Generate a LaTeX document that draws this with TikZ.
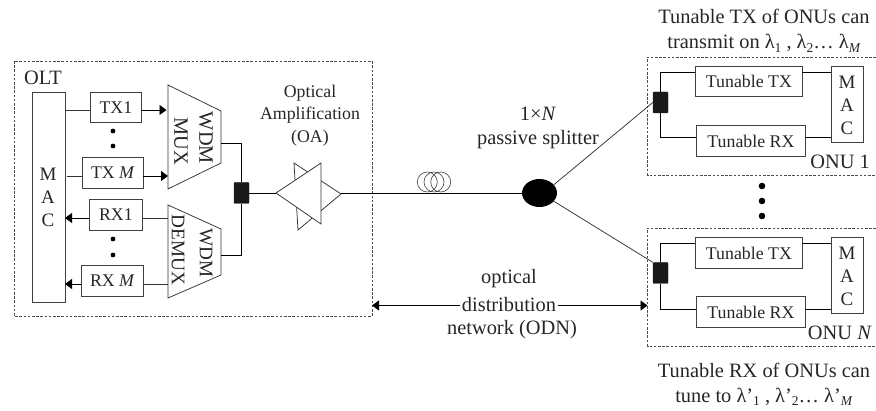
\documentclass[tikz,border=0pt]{standalone}
\usepackage{fontspec}
\setmainfont{Liberation Serif}
\usetikzlibrary{arrows.meta,shapes.geometric}
\newcommand{\lowsub}[1]{\raisebox{-3.5pt}{\fontsize{13.5}{14}\selectfont #1}}
\tikzset{
  x=1pt,y=-1pt,
  txt/.style={inner sep=0pt,font=\fontsize{20.4}{24}\selectfont,text=black!85},
  boxtxt/.style={inner sep=0pt,font=\fontsize{17.8}{21}\selectfont,text=black!85},
  mactxt/.style={inner sep=0pt,align=center,font=\fontsize{19}{23}\selectfont,text=black!85},
  box/.style={draw=black!75,line width=0.85pt,fill=white,inner sep=0pt,anchor=north west},
  wire/.style={draw=black,line width=0.95pt},
  thin wire/.style={draw=black!80,line width=0.75pt},
  dashbox/.style={draw=black!70,line width=0.7pt,dash pattern=on 2.6pt off 1.6pt},
  coupler/.style={fill=black!90,draw=black!90,rounded corners=0.8pt,inner sep=0pt,minimum width=15pt,minimum height=21pt},
  dotmark/.style={circle,fill=black,inner sep=0pt,minimum size=4.8pt},
  big dot/.style={circle,fill=black,inner sep=0pt,minimum size=6.6pt},
  arr/.style={wire,-{Triangle[length=7pt,width=10pt]}},
  dblarr/.style={wire,{Triangle[length=7pt,width=10pt]}-{Triangle[length=7pt,width=10pt]}},
}
\begin{document}
\begin{tikzpicture}
\useasboundingbox (0,0) rectangle (876,411);
% dashed frames
\draw[dashbox] (14,61) rectangle (372,316);
\draw[dashbox] (876,57) -- (647.5,57) -- (647.5,175) -- (876,175);
\draw[dashbox] (876,228) -- (647.5,228) -- (647.5,346) -- (876,346);
\node[txt] (oltlab) at (43,78) {OLT};
% OLT MAC
\node[box,minimum width=33pt,minimum height=210pt] (mac) at (32,92) {};
\node[mactxt] (mactxt) at (48,197.5) {M\\A\\C};
% TX/RX
\node[box,boxtxt,minimum width=51pt,minimum height=30pt] (tx1) at (90,92) {TX1};
\node[box,boxtxt,minimum width=61pt,minimum height=31pt] (txm) at (82,157) {TX \textit{M}};
\node[box,boxtxt,minimum width=53pt,minimum height=31pt] (rx1) at (89,199) {RX1};
\node[box,boxtxt,minimum width=62pt,minimum height=31pt] (rxm) at (81,265) {RX \textit{M}};
\node[dotmark] (d1) at (113,131) {};
\node[dotmark] (d2) at (113,146) {};
\node[dotmark] (d3) at (113,239) {};
\node[dotmark] (d4) at (113,255) {};
% MUX shapes
\draw[thin wire,fill=white] (168,85) -- (221,111) -- (221,163) -- (168,189) -- cycle;
\draw[thin wire,fill=white] (168,205) -- (221,229) -- (221,275) -- (168,298) -- cycle;
\coordinate (macT) at (65,110);
\coordinate (macTM) at (67,176);
\coordinate (macR) at (65,218);
\coordinate (macRM) at (65,284);
\coordinate (tx1L) at (90,110);
\coordinate (tx1R) at (141,110);
\coordinate (txmL) at (82,176);
\coordinate (txmR) at (143,176);
\coordinate (rx1L) at (89,218);
\coordinate (rx1R) at (142,218);
\coordinate (rxmL) at (81,284);
\coordinate (rxmR) at (143,284);
\coordinate (muxT) at (166.5,110);
\coordinate (muxM) at (168,176);
\coordinate (dmxT) at (168,218);
\coordinate (dmxM) at (168,284);
\coordinate (muxR) at (221,143);
\coordinate (dmxR) at (221,255);
\node[txt,rotate=-90] (wdm1) at (206,138) {WDM};
\node[txt,rotate=-90] (mux1) at (181,141) {MUX};
\node[txt,font=\fontsize{19.2}{22}\selectfont,rotate=-90] (wdm2) at (206,253) {WDM};
\node[txt,font=\fontsize{19.2}{22}\selectfont,rotate=-90] (dmx2) at (178,250) {DEMUX};
% OLT wiring
\draw[thin wire] (macT) -- (tx1L);
\draw[arr] (tx1R) -- (muxT);
\draw[thin wire] (macTM) -- (txmL);
\draw[arr] (txmR) -- (muxM);
\draw[arr] (rx1L) -- (macR);
\draw[thin wire] (rx1R) -- (dmxT);
\draw[arr] (rxmL) -- (macRM);
\draw[thin wire] (rxmR) -- (dmxM);
% coupler
\node[coupler] (cpl) at (241.5,193) {};
\draw[wire] (muxR) -| (cpl.north);
\draw[wire] (dmxR) -| (cpl.south);
% amplifier
\draw[thin wire,fill=white] (294,163) -- (341,194) -- (298,230) -- cycle;
\draw[thin wire,fill=white] (276,193) -- (321,163) -- (321,224) -- cycle;
\coordinate (ampL) at (276,193);
\coordinate (ampR) at (341,193);
\draw[wire] (cpl.east) -- (ampL);
\node[inner sep=0pt,align=center,font=\fontsize{17.8}{22.5}\selectfont,text=black!85] (oa) at (310,115.5) {Optical\\Amplification\\(OA)};
% splitter
\node[ellipse,fill=black,inner sep=0pt,minimum width=35pt,minimum height=28pt] (spl) at (539.5,193) {};
\draw[wire] (ampR) -- (spl.west);
\foreach \cx in {427.3,434,440.7}
  \draw[draw=black!75,line width=0.6pt] (\cx,182) ellipse (10 and 10);
\node[txt,align=center,font=\fontsize{20.4}{24.5}\selectfont] (spltxt) at (538,128) {1×\textit{N}\\passive splitter};
% ONU 1
\node[coupler] (c1) at (660.5,102.5) {};
\node[box,boxtxt,minimum width=107pt,minimum height=30pt] (t1) at (695,66) {Tunable TX};
\node[box,boxtxt,minimum width=109pt,minimum height=31pt] (r1) at (696,125) {Tunable RX};
\node[box,minimum width=32pt,minimum height=76pt] (m1) at (831,66) {};
\node[mactxt] (m1t) at (847,105) {M\\A\\C};
\coordinate (t1L) at (695,72);
\coordinate (r1L) at (696,137);
\coordinate (t1R) at (802,72);
\coordinate (r1R) at (805,137);
\coordinate (m1T) at (831,72);
\coordinate (m1B) at (831,137);
\draw[wire] (c1.north) |- (t1L);
\draw[wire] (c1.south) |- (r1L);
\draw[wire] (t1R) -- (m1T);
\draw[wire] (r1R) -- (m1B);
\node[txt,anchor=east] (o1) at (870,162) {ONU 1};
% ONU N
\node[coupler] (c2) at (660.5,273) {};
\node[box,boxtxt,minimum width=107pt,minimum height=31pt] (t2) at (695,237) {Tunable TX};
\node[box,boxtxt,minimum width=109pt,minimum height=31pt] (r2) at (696,296) {Tunable RX};
\node[box,minimum width=32pt,minimum height=76pt] (m2) at (831,237) {};
\node[mactxt] (m2t) at (847,276) {M\\A\\C};
\coordinate (t2L) at (695,243);
\coordinate (r2L) at (696,309);
\coordinate (t2R) at (802,243);
\coordinate (r2R) at (805,309);
\coordinate (m2T) at (831,243);
\coordinate (m2B) at (831,309);
\draw[wire] (c2.north) |- (t2L);
\draw[wire] (c2.south) |- (r2L);
\draw[wire] (t2R) -- (m2T);
\draw[wire] (r2R) -- (m2B);
\node[txt,anchor=east] (o2) at (872,333) {ONU \textit{N}};
% splitter to ONUs
\draw[thin wire] (spl.30) -- (c1.west);
\draw[thin wire] (spl.-30) -- (c2.north west);
% dots between
\node[big dot] (e1) at (762,186) {};
\node[big dot] (e2) at (762,201) {};
\node[big dot] (e3) at (762,216) {};
% top & bottom text
\node[txt,align=center,font=\fontsize{20.4}{25}\selectfont] (top) at (764,31) {Tunable TX of ONUs can\\transmit on λ\lowsub{1} , λ\lowsub{2}… λ\lowsub{\textit{M}}};
\node[txt,align=center,font=\fontsize{20.4}{25}\selectfont] (bot) at (764,384.5) {Tunable RX of ONUs can\\tune to λ’\lowsub{1} , λ’\lowsub{2}… λ’\lowsub{\textit{M}}};
% ODN
\coordinate (odnL) at (372,305.5);
\coordinate (odnR) at (647.5,305.5);
\draw[dblarr] (odnL) -- (odnR);
\node[txt,fill=white,inner xsep=2pt,inner ysep=1pt] (odn2) at (509,305) {distribution};
\node[txt] (odn1) at (509,279) {optical};
\node[txt] (odn3) at (512,330) {network (ODN)};
\end{tikzpicture}
\end{document}
